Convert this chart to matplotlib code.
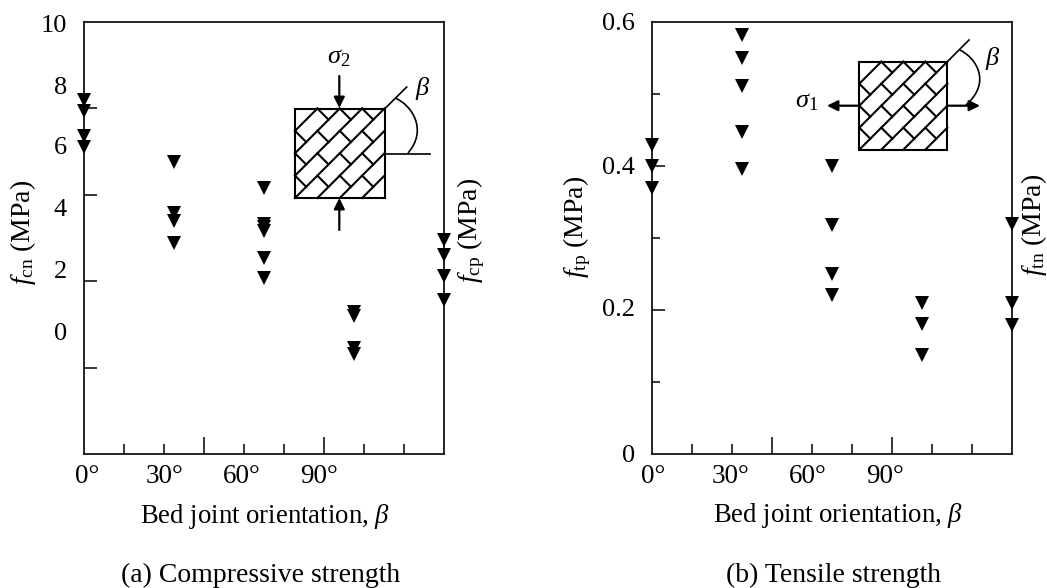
import matplotlib
matplotlib.use("Agg")
import matplotlib.pyplot as plt
from matplotlib.path import Path
from matplotlib.patches import PathPatch, Rectangle

W, H = 1047, 588

# bed joint angle of each test group
angles = [0, 22.5, 45, 67.5, 90]

# compressive strength readings, one list per angle (MPa)
comp_0 = [8.19, 7.94, 7.36, 7.11]
comp_22 = [6.76, 5.58, 5.39, 4.88]
comp_45 = [6.16, 5.32, 5.25, 5.16, 4.54, 4.07]
comp_67 = [3.29, 3.19, 2.45, 2.31]
comp_90 = [4.95, 4.61, 4.12, 3.56]

# tensile strength readings (MPa)
tens_0 = [0.429, 0.40, 0.369]
tens_22 = [0.581, 0.55, 0.511, 0.447, 0.396]
tens_45 = [0.399, 0.318, 0.25, 0.221]
tens_67 = [0.209, 0.181, 0.1375]
tens_90 = [0.319, 0.209, 0.179]

y_labels_a = ["10", "8", "6", "4", "2", "0"]
y_labels_b = ["0.6", "0.4", "0.2", "0"]
x_labels = ["0°", "30°", "60°", "90°"]

plt.rcParams["font.family"] = "Liberation Serif"
plt.rcParams["mathtext.fontset"] = "custom"
plt.rcParams["mathtext.rm"] = "Liberation Serif"
plt.rcParams["mathtext.it"] = "Liberation Serif:italic"

fig = plt.figure(figsize=(W / 100, H / 100), dpi=100, facecolor="white")


def panel(left, right, top, bottom):
    return fig.add_axes([left / W, 1 - bottom / H, (right - left) / W, (bottom - top) / H])


def style_panel(ax, ymax, y_major, y_minor):
    ax.set_xlim(0, 90)
    ax.set_ylim(0, ymax)
    ax.set_xticks([30, 60])
    ax.set_xticks([10, 20, 40, 50, 70, 80], minor=True)
    ax.set_yticks(y_major)
    ax.set_yticks(y_minor, minor=True)
    ax.tick_params(which="major", axis="x", direction="in", length=12, width=1.1, labelbottom=False)
    ax.tick_params(which="minor", axis="x", direction="in", length=7.5, width=1.1)
    ax.tick_params(which="major", axis="y", direction="in", length=9.5, width=1.1, labelleft=False)
    ax.tick_params(which="minor", axis="y", direction="in", length=6, width=1.1)
    for s in ax.spines.values():
        s.set_linewidth(1.2)


def scatter_groups(ax, groups):
    for a, vals in zip(angles, groups):
        ax.plot([a] * len(vals), vals, "v", color="black", ms=9.5, mew=0, clip_on=False, zorder=5)


ax_a = panel(83.5, 444, 22, 454)
style_panel(ax_a, 10, [2, 4, 6, 8], [])
scatter_groups(ax_a, [comp_0, comp_22, comp_45, comp_67, comp_90])

ax_b = panel(651.5, 1011.7, 21.5, 454)
style_panel(ax_b, 0.6, [0.2, 0.4], [0.1, 0.3, 0.5])
scatter_groups(ax_b, [tens_0, tens_22, tens_45, tens_67, tens_90])

# overlay in pixel coords for the hand placed labels and the wall sketches
ov = fig.add_axes([0, 0, 1, 1])
ov.set_xlim(0, W)
ov.set_ylim(H, 0)
ov.axis("off")
ov.patch.set_alpha(0)


def txt(x, y, s, ha="center", rot=0, fs=20):
    ov.text(x, y, s, ha=ha, va="center", fontsize=fs, rotation=rot, color="black")


# tick labels do not sit on the ticks in the source figure
for y, s in zip([25.5, 87.5, 148.5, 209.5, 271.5, 333.5], y_labels_a):
    txt(67, y, s, ha="right", fs=19)
for y, s in zip([23.5, 167.5, 310.5, 455.5], y_labels_b):
    txt(635, y, s, ha="right", fs=19)
for x, s in zip([87, 165, 242, 319], x_labels):
    txt(x, 476.5, s, fs=19.5)
for x, s in zip([653, 731, 808, 885], x_labels):
    txt(x, 476.5, s, fs=19.5)

txt(265.5, 516.5, r"Bed joint orientation, $\beta$", fs=19.3)
txt(838, 515.5, r"Bed joint orientation, $\beta$", fs=19.3)
txt(261, 575, "(a) Compressive strength", fs=20)
txt(834, 575, "(b) Tensile strength", fs=20)

txt(23, 232, r"$f_{\mathrm{cn}}$ (MPa)", rot=90)
txt(471, 230, r"$f_{\mathrm{cp}}$ (MPa)", rot=90)
txt(577, 227, r"$f_{\mathrm{tp}}$ (MPa)", rot=90)
txt(1034, 225, r"$f_{\mathrm{tn}}$ (MPa)", rot=90)


def wall(x0, y0, size):
    ov.add_patch(Rectangle((x0, y0), size, size, fill=False, ec="black", lw=1.5))
    # bed joints at 45 deg
    for k in range(-3, 4):
        d = k * size / 4
        if d <= 0:
            ov.plot([x0, x0 + size + d], [y0 + size + d, y0], color="black", lw=1.5)
        else:
            ov.plot([x0 + d, x0 + size], [y0 + size, y0 + d], color="black", lw=1.5)
    # head joints, staggered between the bed joints
    for i in range(4):
        for j in range(4):
            if i == 0 and j == 0:
                continue
            sx = x0 + i * size / 4
            sy = y0 + j * size / 4
            ov.plot([sx, sx + size / 8], [sy, sy + size / 8], color="black", lw=1.5)


def arrow(x1, y1, x2, y2):
    ov.annotate("", xy=(x2, y2), xytext=(x1, y1),
                arrowprops=dict(arrowstyle="-|>", color="black", lw=1.6, mutation_scale=16,
                                shrinkA=0, shrinkB=0))


def curve(p0, p1, p2, p3):
    path = Path([p0, p1, p2, p3], [Path.MOVETO, Path.CURVE4, Path.CURVE4, Path.CURVE4])
    ov.add_patch(PathPatch(path, fill=False, ec="black", lw=1.2))


# sketch (a)
wall(295, 108.5, 89.5)
arrow(339.3, 76, 339.3, 108)
arrow(339.3, 230, 339.3, 198)
ov.plot([385, 406.7], [108.5, 87], color="black", lw=1.2)
ov.plot([386, 429.5], [153.5, 153.5], color="black", lw=1.2)
curve((395, 98), (412, 105), (428, 130), (408, 153))
txt(339, 58, r"$\sigma_2$", fs=19)
txt(423, 89, r"$\beta$", fs=19)

# sketch (b)
wall(859.3, 61.7, 88)
arrow(859, 105.7, 827, 105.7)
arrow(947, 105.7, 980, 105.7)
ov.plot([947.3, 969], [61.7, 40], color="black", lw=1.2)
curve((960, 50), (976, 58), (992, 82), (966, 105))
txt(807, 102, r"$\sigma_1$", fs=19)
txt(993, 59, r"$\beta$", fs=19)

fig.savefig("out.png", dpi=100)
